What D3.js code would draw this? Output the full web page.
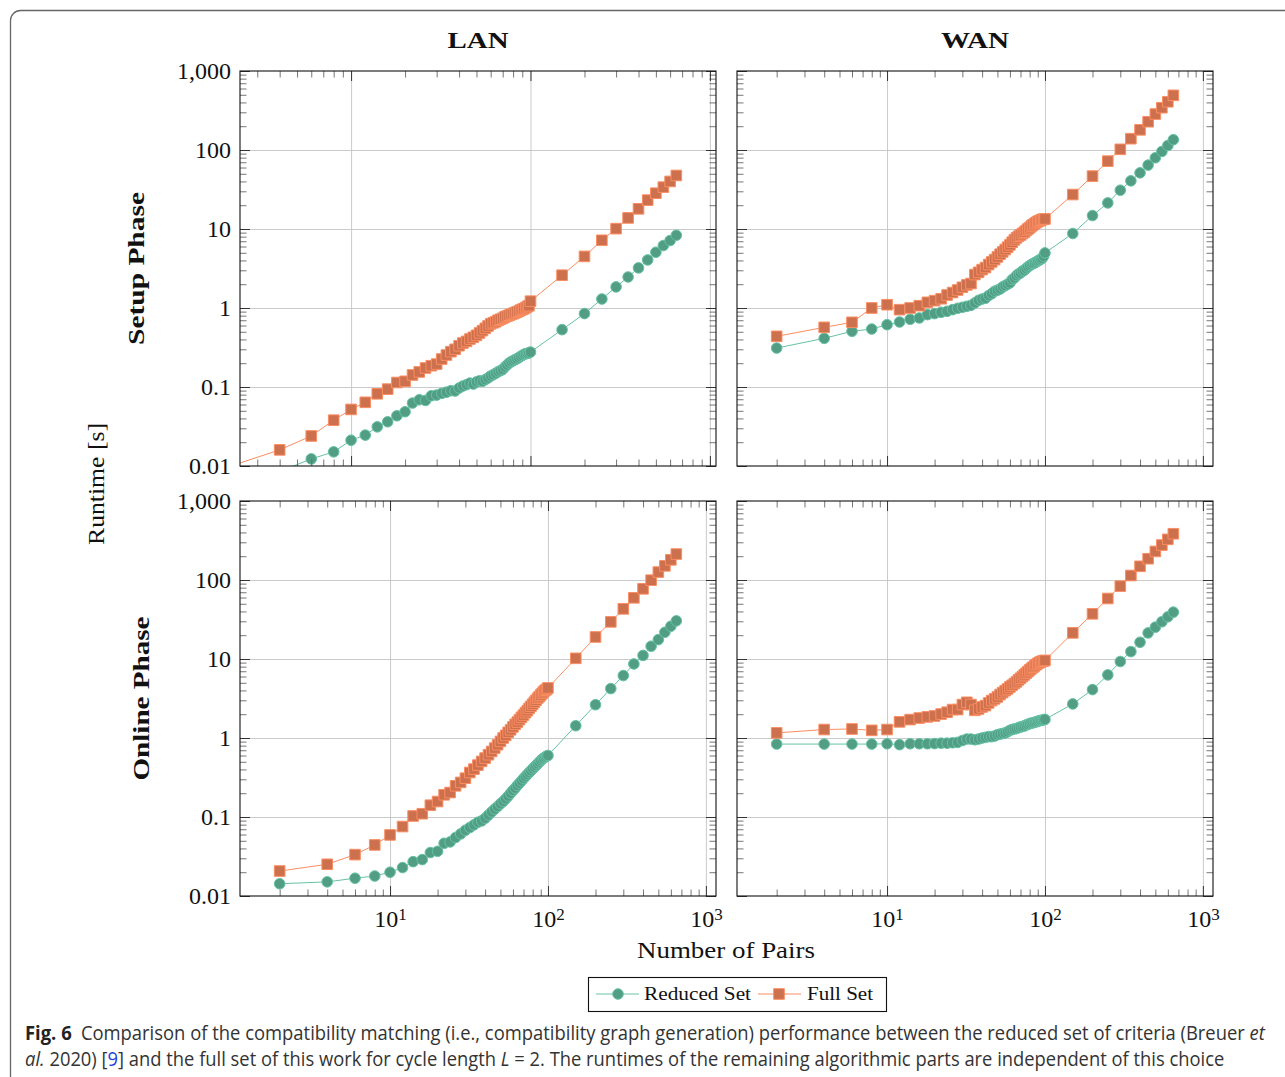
<!DOCTYPE html>
<html>
<head>
<meta charset="utf-8">
<script src="https://cdn.jsdelivr.net/npm/d3@7"></script>
<style>
  body { margin: 0; background: #fff; }
  svg { display: block; }
</style>
</head>
<body>
<div id="chart"></div>
<script>
// Number of pairs (x values shared by every series)
const pairs = [2, 4, 6, 8, 10, 12, 14, 16, 18, 20, 22, 24, 26, 28, 30, 32, 34, 36, 38, 40,
  42, 44, 46, 48, 50, 52, 54, 56, 58, 60, 62, 64, 66, 68, 70, 72, 74, 76, 78, 80,
  82, 84, 86, 88, 90, 92, 94, 96, 98, 100, 150, 200, 250, 300, 350, 400, 450, 500, 550, 600, 650];

// Runtimes in seconds
const lanSetupReduced = [0.0070, 0.0085, 0.0123, 0.0151, 0.0212, 0.0246, 0.0313, 0.0363, 0.0432, 0.0486,
  0.0626, 0.069, 0.0676, 0.0775, 0.079, 0.083, 0.086, 0.0897, 0.089, 0.097,
  0.103, 0.107, 0.112, 0.109, 0.116, 0.12, 0.118, 0.124, 0.13, 0.138,
  0.143, 0.149, 0.156, 0.161, 0.167, 0.179, 0.19, 0.201, 0.209, 0.215,
  0.222, 0.228, 0.235, 0.244, 0.251, 0.259, 0.264, 0.266, 0.27, 0.277,
  0.532, 0.85, 1.3, 1.85, 2.47, 3.22, 4.06, 5.08, 6.17, 7.14, 8.34];
const lanSetupFull = [0.0095, 0.016, 0.024, 0.038, 0.052, 0.064, 0.082, 0.094, 0.114, 0.118,
  0.142, 0.155, 0.174, 0.186, 0.195, 0.226, 0.254, 0.28, 0.30, 0.333,
  0.36, 0.378, 0.405, 0.426, 0.451, 0.483, 0.517, 0.553, 0.592, 0.63,
  0.65, 0.67, 0.70, 0.72, 0.74, 0.77, 0.79, 0.81, 0.83, 0.85,
  0.87, 0.89, 0.91, 0.94, 0.96, 0.98, 1.01, 1.04, 1.07, 1.22,
  2.6, 4.5, 7.2, 10.1, 13.8, 18, 23.2, 28.4, 33.9, 40, 47.6];
const wanSetupReduced = [0.311, 0.413, 0.507, 0.542, 0.615, 0.665, 0.719, 0.748, 0.824, 0.849,
  0.883, 0.908, 0.953, 0.991, 1.02, 1.05, 1.08, 1.16, 1.25, 1.3,
  1.33, 1.44, 1.52, 1.63, 1.68, 1.74, 1.85, 1.92, 2.0, 2.08,
  2.29, 2.4, 2.57, 2.7, 2.78, 2.94, 3.0, 3.16, 3.31, 3.44,
  3.55, 3.65, 3.72, 3.83, 3.94, 4.02, 4.14, 4.26, 4.52, 4.98,
  8.77, 14.8, 21.4, 31, 40.7, 51.4, 64.4, 79.7, 95.9, 114, 135];
const wanSetupFull = [0.438, 0.569, 0.659, 1.0, 1.10, 0.953, 1.0, 1.07, 1.18, 1.24,
  1.31, 1.46, 1.57, 1.69, 1.83, 1.96, 2.04, 2.65, 2.83, 3.06,
  3.25, 3.55, 3.83, 4.1, 4.43, 4.8, 5.13, 5.5, 5.89, 6.3,
  6.8, 7.28, 7.72, 8.1, 8.4, 8.77, 9.1, 9.57, 10.0, 10.4,
  10.9, 11.3, 11.7, 12.1, 12.4, 12.7, 12.9, 13.2, 13.3, 13.4,
  27.3, 46.7, 72.3, 102, 139, 180, 228, 285, 343, 408, 492];
const lanOnlineReduced = [0.0143, 0.0151, 0.0168, 0.0179, 0.02, 0.0229, 0.0272, 0.0289, 0.0355, 0.0368,
  0.0465, 0.0484, 0.055, 0.0611, 0.068, 0.0735, 0.0795, 0.0859, 0.0893, 0.0966,
  0.106, 0.116, 0.126, 0.136, 0.147, 0.157, 0.17, 0.184, 0.2, 0.217,
  0.232, 0.251, 0.268, 0.287, 0.307, 0.326, 0.345, 0.366, 0.385, 0.408,
  0.428, 0.45, 0.472, 0.495, 0.52, 0.541, 0.557, 0.573, 0.59, 0.601,
  1.43, 2.64, 4.22, 6.17, 8.66, 11.1, 14.5, 17.6, 21.8, 26, 30.4];
const lanOnlineFull = [0.0207, 0.0252, 0.0334, 0.0443, 0.0593, 0.0757, 0.103, 0.11, 0.141, 0.157,
  0.191, 0.204, 0.248, 0.274, 0.31, 0.366, 0.404, 0.454, 0.505, 0.557,
  0.614, 0.676, 0.745, 0.822, 0.906, 1.0, 1.08, 1.18, 1.27, 1.38,
  1.49, 1.59, 1.71, 1.83, 1.95, 2.09, 2.22, 2.37, 2.52, 2.67,
  2.83, 3.0, 3.18, 3.33, 3.5, 3.68, 3.86, 4.02, 4.13, 4.3,
  10.2, 19.0, 29.5, 43.1, 59.5, 77.3, 99.5, 126, 151, 180, 213];
const wanOnlineReduced = [0.838, 0.838, 0.838, 0.838, 0.845, 0.824, 0.845, 0.845, 0.845, 0.85,
  0.86, 0.86, 0.87, 0.88, 0.93, 0.97, 0.97, 0.95, 0.97, 1.0,
  1.02, 1.04, 1.04, 1.06, 1.1, 1.12, 1.14, 1.16, 1.2, 1.25,
  1.28, 1.3, 1.32, 1.35, 1.38, 1.4, 1.42, 1.46, 1.49, 1.52,
  1.54, 1.56, 1.58, 1.6, 1.63, 1.65, 1.67, 1.68, 1.7, 1.72,
  2.7, 4.1, 6.29, 9.3, 12.4, 16.3, 21.4, 25.3, 29.6, 34.2, 39.2];
const wanOnlineFull = [1.16, 1.28, 1.3, 1.25, 1.28, 1.6, 1.71, 1.79, 1.85, 1.9,
  2.01, 2.12, 2.29, 2.29, 2.65, 2.83, 2.65, 2.24, 2.33, 2.47,
  2.57, 2.78, 2.98, 3.13, 3.31, 3.55, 3.76, 3.98, 4.18, 4.43,
  4.65, 4.89, 5.13, 5.44, 5.71, 5.99, 6.29, 6.6, 6.93, 7.27,
  7.56, 7.86, 8.18, 8.5, 8.75, 9.01, 9.19, 9.37, 9.46, 9.6,
  21.4, 37.3, 58.3, 83.6, 114, 149, 186, 230, 277, 327, 385];

// Labels
const columnTitles = ['LAN', 'WAN'];
const rowTitles = ['Setup Phase', 'Online Phase'];
const seriesNames = ['Reduced Set', 'Full Set'];
const yTickValues = [0.01, 0.1, 1, 10, 100, 1000];
const yTickLabels = ['0.01', '0.1', '1', '10', '100', '1,000'];
const xTickExponents = [0, 1, 2, 3];

const W = 1285, H = 1077;
const colLeft = [240, 737];
const rowTop = [71, 501];
const pw = 476, ph = 395;
const colors = { line: ['#66c2a5', '#fc8d62'], fill: ['#529e85', '#cc704d'] };
const serif = "'Liberation Serif', 'DejaVu Serif', serif";
const sans = "'Open Sans', 'Noto Sans', sans-serif";

const panels = [
  { col: 0, row: 0, series: [lanSetupReduced, lanSetupFull] },
  { col: 1, row: 0, series: [wanSetupReduced, wanSetupFull] },
  { col: 0, row: 1, series: [lanOnlineReduced, lanOnlineFull] },
  { col: 1, row: 1, series: [wanOnlineReduced, wanOnlineFull] },
];

const svg = d3.select('#chart').append('svg')
  .attr('width', W).attr('height', H);

svg.append('rect').attr('width', W).attr('height', H).attr('fill', '#fff');

// outer figure box
svg.append('rect')
  .attr('x', 10.5).attr('y', 10.5)
  .attr('width', 1320).attr('height', 1120)
  .attr('rx', 10)
  .attr('fill', 'none').attr('stroke', '#666').attr('stroke-width', 1.3);

const yMinor = [];
for (let e = -2; e < 3; e++) for (let m = 2; m < 10; m++) yMinor.push(m * 10 ** e);

// x limits from the points inside the y range, 10% log padding
function xDomain(series) {
  const xs = pairs.filter((p, i) => series.some(s => s[i] >= 0.01));
  const lo = Math.log10(d3.min(xs)), hi = Math.log10(d3.max(xs));
  const pad = (hi - lo) * 0.1;
  return [10 ** (lo - pad), 10 ** (hi + pad)];
}

function tickStyle(sel, color) {
  sel.select('.domain').remove();
  sel.selectAll('line').attr('stroke', color).attr('stroke-width', 0.9);
}

panels.forEach((p, pi) => {
  const left = colLeft[p.col], top = rowTop[p.row];
  const x = d3.scaleLog().domain(xDomain(p.series)).range([left, left + pw]);
  const y = d3.scaleLog().domain([0.01, 1000]).range([top + ph, top]);
  const [x0, x1] = x.domain();
  const xMajor = xTickExponents.map(e => 10 ** e).filter(v => v >= x0 && v <= x1);
  const xMinor = [];
  for (let e = 0; e < 4; e++) for (let m = 2; m < 10; m++) {
    const v = m * 10 ** e;
    if (v > x0 && v < x1) xMinor.push(v);
  }

  const g = svg.append('g');
  const clipId = 'clip' + pi;
  g.append('clipPath').attr('id', clipId)
    .append('rect').attr('x', left).attr('y', top).attr('width', pw).attr('height', ph);

  // grid
  g.append('g').attr('transform', `translate(0,${top + ph})`)
    .call(d3.axisBottom(x).tickValues(xMajor).tickSize(-ph).tickFormat(''))
    .call(s => tickStyle(s, '#c4c4c4'));
  g.append('g').attr('transform', `translate(${left},0)`)
    .call(d3.axisLeft(y).tickValues(yTickValues.slice(1, -1)).tickSize(-pw).tickFormat(''))
    .call(s => tickStyle(s, '#c4c4c4'));

  // series
  const plot = g.append('g').attr('clip-path', `url(#${clipId})`);
  p.series.forEach((vals, si) => {
    const pts = pairs.map((px, i) => [px, vals[i]]);
    plot.append('path')
      .attr('d', d3.line().x(d => x(d[0])).y(d => y(d[1]))(pts))
      .attr('fill', 'none').attr('stroke', colors.line[si]).attr('stroke-width', 1);
    const sym = si === 0 ? d3.symbolCircle : d3.symbolSquare;
    const size = si === 0 ? Math.PI * 5.3 * 5.3 : 10.6 * 10.6;
    plot.append('g').selectAll('path').data(pts).join('path')
      .attr('transform', d => `translate(${x(d[0])},${y(d[1])})`)
      .attr('d', d3.symbol(sym, size))
      .attr('fill', colors.fill[si])
      .attr('stroke', colors.line[si]).attr('stroke-width', 1);
  });

  // inward ticks on all four sides
  const sides = [
    [d3.axisRight(y), `translate(${left},0)`, yTickValues, yMinor],
    [d3.axisLeft(y), `translate(${left + pw},0)`, yTickValues, yMinor],
    [d3.axisBottom(x), `translate(0,${top})`, xMajor, xMinor],
    [d3.axisTop(x), `translate(0,${top + ph})`, xMajor, xMinor],
  ];
  sides.forEach(([ax, tr, maj, min]) => {
    g.append('g').attr('transform', tr)
      .call(ax.tickValues(min).tickSize(6.5).tickFormat(''))
      .call(s => tickStyle(s, '#666'));
    g.append('g').attr('transform', tr)
      .call(ax.tickValues(maj).tickSize(10).tickFormat(''))
      .call(s => tickStyle(s, '#222'));
  });

  // frame
  g.append('rect').attr('x', left).attr('y', top).attr('width', pw).attr('height', ph)
    .attr('fill', 'none').attr('stroke', '#111').attr('stroke-width', 1.1);

  // y labels
  if (p.col === 0) {
    g.append('g').attr('transform', `translate(${left},0)`)
      .call(d3.axisLeft(y).tickValues(yTickValues).tickSize(0).tickPadding(9)
        .tickFormat((d, i) => yTickLabels[i]))
      .call(s => s.select('.domain').remove())
      .selectAll('text').attr('font-family', serif).attr('font-size', 24).attr('fill', '#111');
  }
  // x labels
  if (p.row === 1) {
    const xl = g.append('g').attr('transform', `translate(0,${top + ph})`)
      .call(d3.axisBottom(x).tickValues(xMajor).tickSize(0).tickPadding(14).tickFormat(''));
    xl.select('.domain').remove();
    xl.selectAll('text').each(function (d) {
      const t = d3.select(this)
        .attr('font-family', serif).attr('font-size', 24).attr('fill', '#111')
        .attr('text-anchor', 'middle');
      t.text('10');
      t.append('tspan').attr('font-size', 17).attr('dy', -7).text(Math.round(Math.log10(d)));
    });
  }
});

// column titles
columnTitles.forEach((t, i) => {
  svg.append('text')
    .attr('x', colLeft[i] + pw / 2).attr('y', 48)
    .attr('text-anchor', 'middle')
    .attr('font-family', serif).attr('font-size', 24).attr('font-weight', 'bold')
    .attr('textLength', i === 0 ? 61 : 68).attr('lengthAdjust', 'spacingAndGlyphs')
    .attr('fill', '#111').text(t);
});

// row titles
const rowBase = [144, 149];
const rowLen = [153, 164];
rowTitles.forEach((t, i) => {
  svg.append('text')
    .attr('transform', `translate(${rowBase[i]},${rowTop[i] + ph / 2}) rotate(-90)`)
    .attr('text-anchor', 'middle')
    .attr('font-family', serif).attr('font-size', 24).attr('font-weight', 'bold')
    .attr('textLength', rowLen[i]).attr('lengthAdjust', 'spacingAndGlyphs')
    .attr('fill', '#111').text(t);
});

svg.append('text')
  .attr('transform', 'translate(104,484) rotate(-90)')
  .attr('text-anchor', 'middle')
  .attr('font-family', serif).attr('font-size', 24)
  .attr('textLength', 122).attr('lengthAdjust', 'spacingAndGlyphs')
  .attr('fill', '#111').text('Runtime [s]');

svg.append('text')
  .attr('x', 726).attr('y', 958)
  .attr('text-anchor', 'middle')
  .attr('font-family', serif).attr('font-size', 24)
  .attr('textLength', 178).attr('lengthAdjust', 'spacingAndGlyphs')
  .attr('fill', '#111').text('Number of Pairs');

// legend
const lg = svg.append('g');
lg.append('rect').attr('x', 588.5).attr('y', 977.5).attr('width', 298).attr('height', 34)
  .attr('fill', '#fff').attr('stroke', '#111').attr('stroke-width', 1.1);
const legendItems = [
  { x0: 596, x1: 639, mx: 618, tx: 644, tl: 107 },
  { x0: 758, x1: 801, mx: 779, tx: 807, tl: 66 },
];
seriesNames.forEach((name, si) => {
  const it = legendItems[si];
  lg.append('line').attr('x1', it.x0).attr('x2', it.x1).attr('y1', 994).attr('y2', 994)
    .attr('stroke', colors.line[si]).attr('stroke-width', 1);
  lg.append('path')
    .attr('transform', `translate(${it.mx},994)`)
    .attr('d', d3.symbol(si === 0 ? d3.symbolCircle : d3.symbolSquare,
      si === 0 ? Math.PI * 5.3 * 5.3 : 10.6 * 10.6))
    .attr('fill', colors.fill[si]).attr('stroke', colors.line[si]).attr('stroke-width', 1);
  lg.append('text').attr('x', it.tx).attr('y', 1000)
    .attr('font-family', serif).attr('font-size', 19.5)
    .attr('textLength', it.tl).attr('lengthAdjust', 'spacingAndGlyphs')
    .attr('fill', '#111').text(name);
});

// caption: each line squeezed horizontally to the width it has in the figure
function fitLine(sel, x, y, width) {
  const w = sel.node().getComputedTextLength();
  sel.attr('transform', `translate(${x},${y}) scale(${width / w},1)`);
}

const cap1 = svg.append('text').attr('x', 0).attr('y', 0)
  .attr('font-family', sans).attr('font-size', 20).attr('fill', '#333');
cap1.append('tspan').attr('font-weight', 'bold').attr('fill', '#222').text('Fig. 6');
cap1.append('tspan').text('\u2002Comparison of the compatibility matching (i.e., compatibility graph generation) performance between the reduced set of criteria (Breuer ');
cap1.append('tspan').attr('font-style', 'italic').text('et');
fitLine(cap1, 25, 1040, 1240);

const cap2 = svg.append('text').attr('x', 0).attr('y', 0)
  .attr('font-family', sans).attr('font-size', 20).attr('fill', '#333');
cap2.append('tspan').attr('font-style', 'italic').text('al.');
cap2.append('tspan').text(' 2020) [');
cap2.append('tspan').attr('fill', '#1f3fd6').text('9');
cap2.append('tspan').text('] and the full set of this work for cycle length ');
cap2.append('tspan').attr('font-style', 'italic').text('L');
cap2.append('tspan').text(' = 2. The runtimes of the remaining algorithmic parts are independent of this choice');
fitLine(cap2, 25, 1066, 1200);
</script>
</body>
</html>
